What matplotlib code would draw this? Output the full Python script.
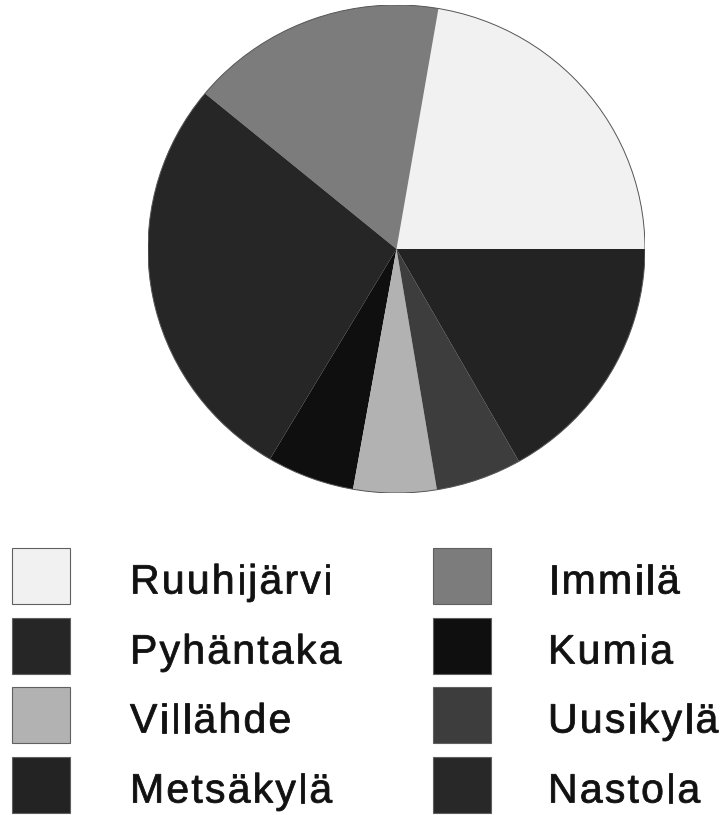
import matplotlib
matplotlib.use("Agg")
import matplotlib.pyplot as plt
import matplotlib.transforms as mtransforms
from matplotlib.patches import Rectangle, Circle, PathPatch
from matplotlib.textpath import TextPath
from matplotlib.font_manager import FontProperties, findfont
from matplotlib.ft2font import FT2Font

# slices, counter-clockwise from 3 o'clock (percent)
slice_names = ["Ruuhijärvi", "Immilä", "Pyhäntaka", "Kumia", "Villähde", "Uusikylä", "Metsäkylä", "Nastola"]
slice_vals = [22.3, 16.7, 27.5, 5.7, 5.4, 5.6, 16.8, 0.0]

legend_names = ["Ruuhijärvi", "Pyhäntaka", "Villähde", "Metsäkylä",
                "Immilä", "Kumia", "Uusikylä", "Nastola"]
colours = {"Ruuhijärvi": "#f1f1f1", "Pyhäntaka": "#262626", "Villähde": "#b2b2b2",
           "Metsäkylä": "#232323", "Immilä": "#7c7c7c", "Kumia": "#0f0f0f",
           "Uusikylä": "#3d3d3d", "Nastola": "#282828"}

W, H = 726, 815
fig = plt.figure(figsize=(W / 100, H / 100), dpi=100)

# pie (slightly wider than tall, as in the scan)
cx, cy, rx, ry = 396.5, 249, 248.5, 244
ax = fig.add_axes([(cx - rx) / W, (H - cy - ry) / H, 2 * rx / W, 2 * ry / H])
ax.pie(slice_vals, colors=[colours[n] for n in slice_names], startangle=0,
       counterclock=True, wedgeprops=dict(linewidth=0))
ax.set_aspect("auto")
ax.set_xlim(-1, 1)
ax.set_ylim(-1, 1)
ax.add_patch(Circle((0, 0), 1, fill=False, lw=0.7, ec="#555555"))

# legend drawn in pixel coordinates
lg = fig.add_axes([0, 0, 1, 1])
lg.set_xlim(0, W)
lg.set_ylim(H, 0)
lg.axis("off")

fp = FontProperties(family="Liberation Sans")
ft = FT2Font(findfont(fp))
em = 41
track = 2.2
ft.set_size(em, 72)


def spaced_text(x, base, s):
    # letter-spaced label, glyph by glyph
    for c in s:
        tp = TextPath((0, 0), c, size=em, prop=fp)
        tr = mtransforms.Affine2D().scale(1, -1).translate(x, base) + lg.transData
        lg.add_patch(PathPatch(tp, transform=tr, fc="#111111", ec="#111111", lw=0.6))
        x += ft.load_char(ord(c)).linearHoriAdvance / 65536 + track


col_x = [12, 433]
text_x = [130, 548]
row_y = [548, 618, 687, 757]
for i, name in enumerate(legend_names):
    x0 = col_x[i // 4]
    y0 = row_y[i % 4]
    lg.add_patch(Rectangle((x0, y0), 58, 56, facecolor=colours[name],
                           edgecolor="#606060", linewidth=0.8))
    spaced_text(text_x[i // 4], y0 + 45.5, name)

fig.savefig("out.png", dpi=100, facecolor="white")
